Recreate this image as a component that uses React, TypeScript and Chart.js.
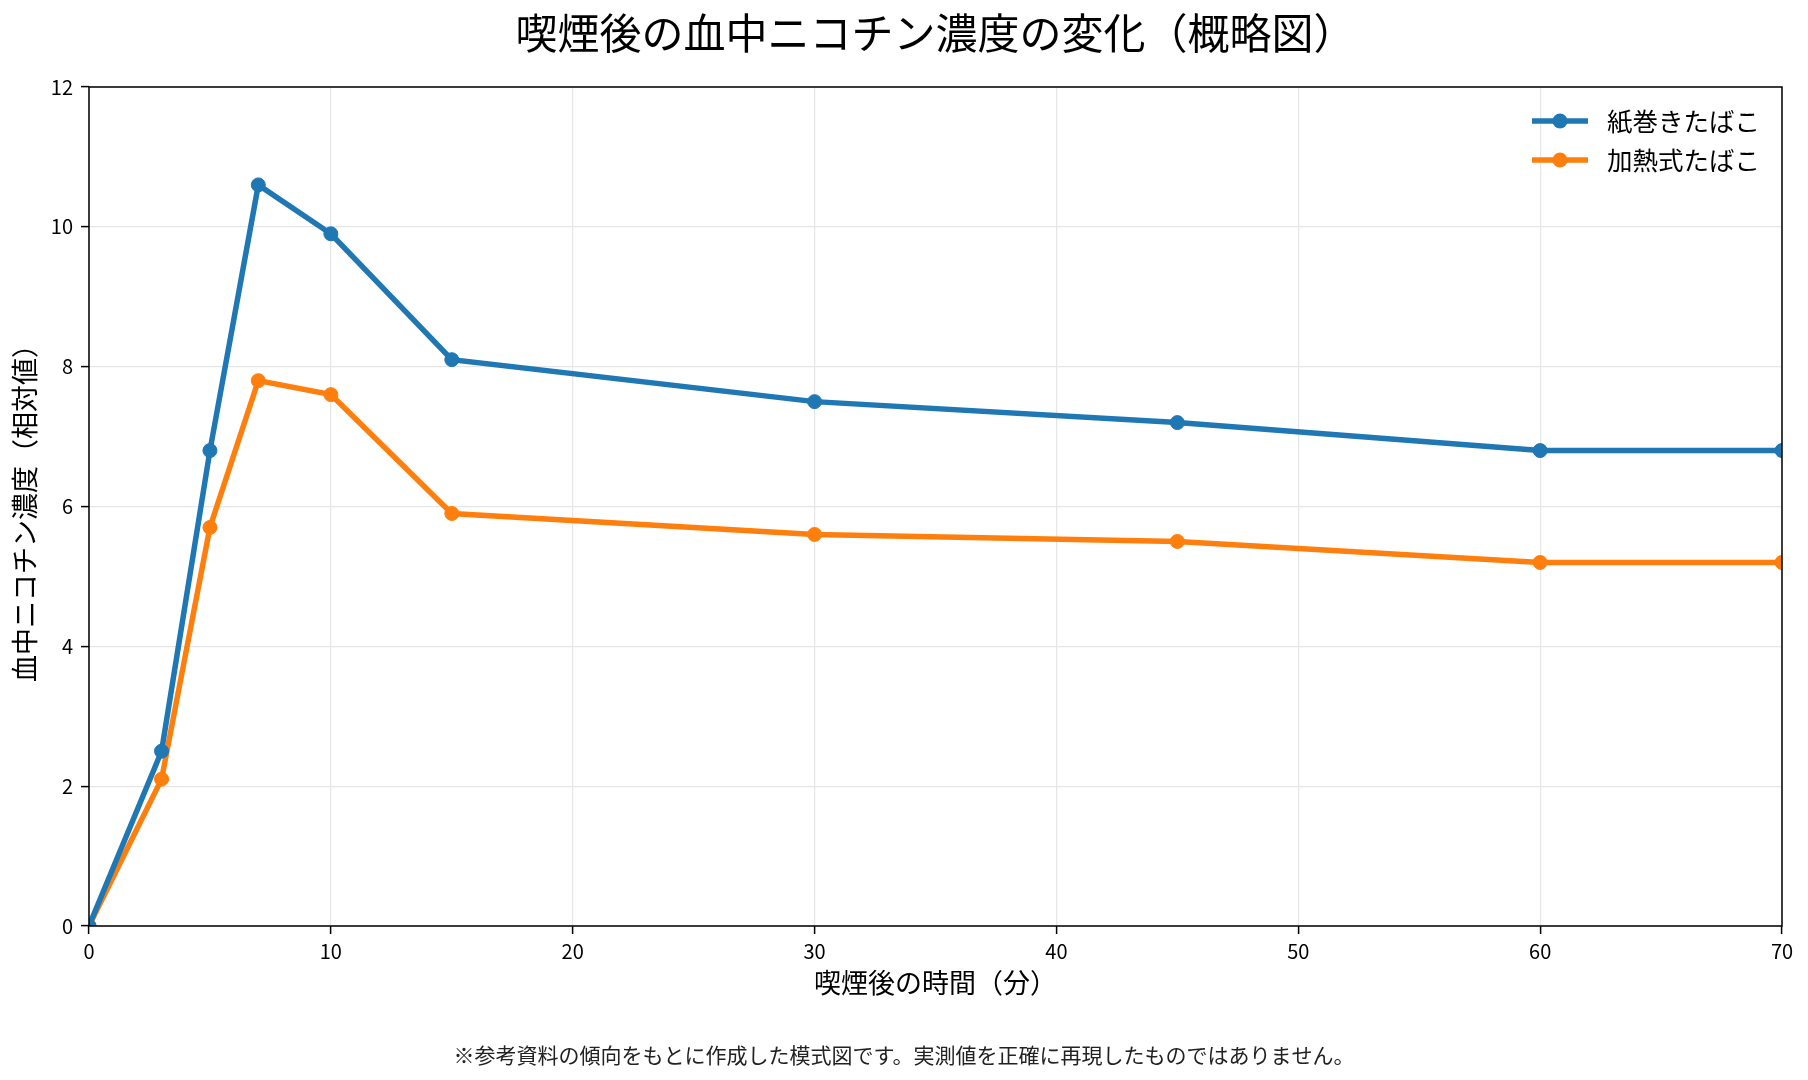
import { useEffect, useRef } from "react";
import { Chart, registerables, type Plugin } from "chart.js";

Chart.register(...registerables);

// minutes after smoking
const minutes = [0, 3, 5, 7, 10, 15, 30, 45, 60, 70];
// relative blood nicotine concentration
const cigarette = [0, 2.5, 6.8, 10.6, 9.9, 8.1, 7.5, 7.2, 6.8, 6.8];
const heated = [0, 2.1, 5.7, 7.8, 7.6, 5.9, 5.6, 5.5, 5.2, 5.2];

const seriesNames = ["紙巻きたばこ", "加熱式たばこ"];
const seriesColors = ["#1f77b4", "#ff7f0e"];

const xTicks = [0, 10, 20, 30, 40, 50, 60, 70];
const yTicks = [0, 2, 4, 6, 8, 10, 12];

const titleText = "喫煙後の血中ニコチン濃度の変化（概略図）";
const xLabel = "喫煙後の時間（分）";
const yLabel = "血中ニコチン濃度（相対値）";
const footnote =
  "※参考資料の傾向をもとに作成した模式図です。実測値を正確に再現したものではありません。";

const FONT = "'Noto Sans CJK JP', 'Noto Sans', sans-serif";

// axes box drawn on all four sides, like matplotlib spines
const frame: Plugin<"line"> = {
  id: "frame",
  afterDatasetsDraw(chart) {
    const { ctx, chartArea: a } = chart;
    ctx.save();
    ctx.strokeStyle = "#000";
    ctx.lineWidth = 1.5;
    ctx.strokeRect(a.left, a.top, a.right - a.left, a.bottom - a.top);
    ctx.restore();
  },
};

// legend in the upper right corner, inside the plot
const insideLegend: Plugin<"line"> = {
  id: "insideLegend",
  afterDatasetsDraw(chart) {
    const { ctx, chartArea: a } = chart;
    ctx.save();
    chart.data.datasets.forEach((ds, i) => {
      const color = ds.borderColor as string;
      const y = a.top + 34 + i * 39;
      const x0 = a.right - 250;
      const x1 = x0 + 56;
      ctx.strokeStyle = color;
      ctx.lineWidth = 5.5;
      ctx.beginPath();
      ctx.moveTo(x0, y);
      ctx.lineTo(x1, y);
      ctx.stroke();
      ctx.fillStyle = color;
      ctx.beginPath();
      ctx.arc((x0 + x1) / 2, y, 7.5, 0, Math.PI * 2);
      ctx.fill();
      ctx.fillStyle = "#000";
      ctx.font = `25.5px ${FONT}`;
      ctx.textBaseline = "middle";
      ctx.textAlign = "left";
      ctx.fillText(ds.label ?? "", x1 + 19, y);
    });
    ctx.restore();
  },
};

export default function App() {
  const canvasRef = useRef<HTMLCanvasElement>(null);

  useEffect(() => {
    const canvas = canvasRef.current;
    if (!canvas) return;

    const series = [cigarette, heated];

    const chart = new Chart(canvas, {
      type: "line",
      data: {
        datasets: series.map((values, i) => ({
          label: seriesNames[i],
          data: minutes.map((m, j) => ({ x: m, y: values[j] })),
          borderColor: seriesColors[i],
          backgroundColor: seriesColors[i],
          pointBackgroundColor: seriesColors[i],
          pointBorderColor: seriesColors[i],
          borderWidth: 5.5,
          pointRadius: 7,
          pointBorderWidth: 1,
          tension: 0,
          clip: 0,
        })),
      },
      options: {
        animation: false,
        responsive: true,
        maintainAspectRatio: false,
        devicePixelRatio: 1,
        layout: { padding: 0 },
        plugins: {
          legend: { display: false },
          tooltip: { enabled: false },
          title: {
            display: true,
            text: titleText,
            color: "#000",
            fullSize: false,
            font: { family: FONT, size: 42, weight: "normal" },
            padding: { top: 7.8, bottom: 28.8 },
          },
          subtitle: {
            display: true,
            text: footnote,
            position: "bottom",
            color: "#222",
            fullSize: true,
            font: { family: FONT, size: 21, weight: "normal" },
            padding: { top: 0, bottom: 12.4 },
          },
        },
        scales: {
          x: {
            type: "linear",
            min: xTicks[0],
            max: xTicks[xTicks.length - 1],
            afterFit: (scale) => {
              scale.height = 116.4;
            },
            ticks: {
              stepSize: xTicks[1] - xTicks[0],
              color: "#000",
              padding: 5,
              font: { family: FONT, size: 20 },
            },
            grid: {
              color: "#e6e6e6",
              lineWidth: 1.2,
              tickColor: "#000",
              tickLength: 8,
              tickWidth: 1.5,
            },
            border: { display: false },
            title: {
              display: true,
              text: xLabel,
              color: "#000",
              font: { family: FONT, size: 27 },
              padding: { top: 0, bottom: 43.2 },
            },
          },
          y: {
            type: "linear",
            min: yTicks[0],
            max: yTicks[yTicks.length - 1],
            afterFit: (scale) => {
              scale.width = 89;
            },
            ticks: {
              stepSize: yTicks[1] - yTicks[0],
              color: "#000",
              padding: 8,
              font: { family: FONT, size: 20 },
            },
            grid: {
              color: "#e6e6e6",
              lineWidth: 1.2,
              tickColor: "#000",
              tickLength: 8,
              tickWidth: 1.5,
            },
            border: { display: false },
            title: {
              display: true,
              text: yLabel,
              color: "#000",
              font: { family: FONT, size: 27 },
              padding: { top: 8.8, bottom: 0 },
            },
          },
          // empty right-hand axis that only reserves the right margin
          yRight: {
            type: "linear",
            position: "right",
            afterFit: (scale) => {
              scale.width = 26;
            },
            ticks: { display: false },
            grid: { display: false, drawTicks: false },
            border: { display: false },
          },
        },
      },
      plugins: [frame, insideLegend],
    });

    return () => {
      chart.destroy();
    };
  }, []);

  return (
    <div
      style={{
        position: "fixed",
        left: 0,
        top: 0,
        width: 1808,
        height: 1080,
        background: "#fff",
      }}
    >
      <canvas ref={canvasRef} />
    </div>
  );
}
